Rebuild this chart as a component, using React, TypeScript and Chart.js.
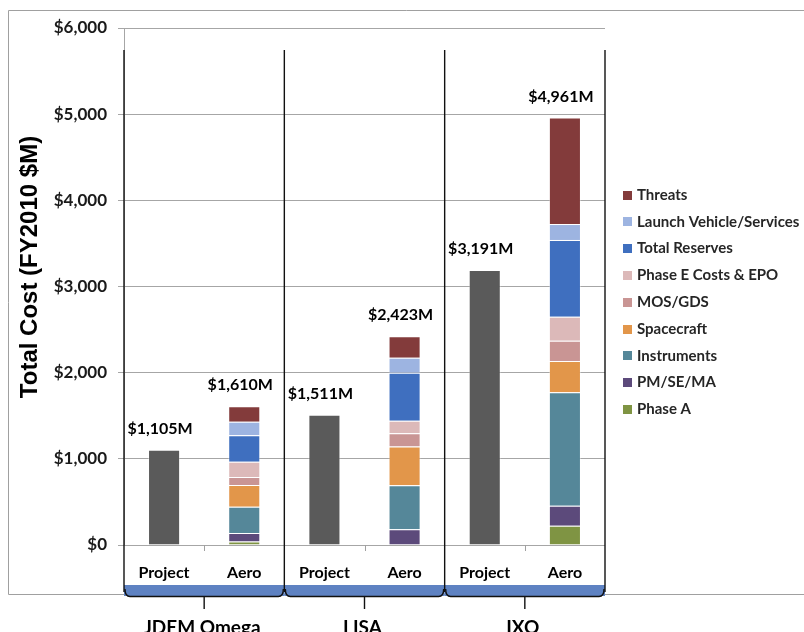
import React, { useEffect, useRef } from 'react';
import { Chart, registerables } from 'chart.js';

Chart.register(...registerables);

// ---- data ----
const categories = ['Project', 'Aero', 'Project', 'Aero', 'Project', 'Aero'];
const groups = ['JDEM Omega', 'LISA', 'IXO'];
const totals = [1105, 1610, 1511, 2423, 3191, 4961];
const totalLabels = ['$1,105M', '$1,610M', '$1,511M', '$2,423M', '$3,191M', '$4,961M'];
const yTicks = [0, 1000, 2000, 3000, 4000, 5000, 6000];

const projectValues = [1105, null, 1511, null, 3191, null];
const phaseA = [null, 40, null, 0, null, 224];
const pmSeMa = [null, 100, null, 183, null, 232];
const instruments = [null, 305, null, 510, null, 1316];
const spacecraft = [null, 250, null, 450, null, 363];
const mosGds = [null, 95, null, 155, null, 236];
const phaseE = [null, 175, null, 145, null, 279];
const reserves = [null, 310, null, 555, null, 890];
const launch = [null, 155, null, 175, null, 185];
const threats = [null, 180, null, 250, null, 1236];

const seriesNames = ['Phase A', 'PM/SE/MA', 'Instruments', 'Spacecraft', 'MOS/GDS', 'Phase E Costs & EPO', 'Total Reserves', 'Launch Vehicle/Services', 'Threats'];
const seriesValues = [phaseA, pmSeMa, instruments, spacecraft, mosGds, phaseE, reserves, launch, threats];
const seriesColors = ['#7F9443', '#5C4A7B', '#558799', '#E2964A', '#C99594', '#DCB9B9', '#3F6FBF', '#9DB4E1', '#833B3B'];
const projectColor = '#5A5A5A';
const bandColor = '#5E82C2';

const FONT = 'Lato, "Open Sans", sans-serif';

const decorPlugin = {
  id: 'decor',
  beforeDraw(chart: any) {
    const ctx = chart.ctx;
    ctx.save();
    ctx.strokeStyle = '#A0A0A0';
    ctx.lineWidth = 1;
    ctx.beginPath();
    ctx.moveTo(8.5, 10.5);
    ctx.lineTo(804, 10.5);
    ctx.moveTo(8.5, 10.5);
    ctx.lineTo(8.5, 594.5);
    ctx.lineTo(804, 594.5);
    ctx.stroke();
    ctx.restore();
  },
  afterDraw(chart: any) {
    const ctx = chart.ctx;
    const xs = chart.scales.x;
    const ys = chart.scales.y;
    const area = chart.chartArea;
    const half = (xs.getPixelForValue(1) - xs.getPixelForValue(0)) / 2;
    ctx.save();

    // small ticks between Project / Aero
    ctx.strokeStyle = '#A0A0A0';
    ctx.lineWidth = 1;
    for (let g = 0; g < groups.length; g++) {
      const xm = Math.round(xs.getPixelForValue(g * 2) + half) + 0.5;
      ctx.beginPath();
      ctx.moveTo(xm, area.bottom);
      ctx.lineTo(xm, area.bottom + 6);
      ctx.stroke();
    }

    // blue bands with bracket
    for (let g = 0; g < groups.length; g++) {
      const xl = xs.getPixelForValue(g * 2) - half;
      const xr = xs.getPixelForValue(g * 2 + 1) + half;
      const xc = (xl + xr) / 2;
      ctx.fillStyle = bandColor;
      ctx.fillRect(xl, 585, xr - xl, 11);
      ctx.strokeStyle = '#111';
      ctx.lineWidth = 1.4;
      ctx.beginPath();
      ctx.moveTo(xl + 1, 589);
      ctx.quadraticCurveTo(xl + 1, 596.5, xl + 6, 596.5);
      ctx.lineTo(xr - 6, 596.5);
      ctx.quadraticCurveTo(xr - 1, 596.5, xr - 1, 589);
      ctx.moveTo(xc, 596.5);
      ctx.lineTo(xc, 609);
      ctx.stroke();

      ctx.fillStyle = '#000';
      ctx.font = `bold 19px ${FONT}`;
      ctx.textAlign = 'center';
      ctx.textBaseline = 'middle';
      ctx.fillText(groups[g], xc - 2, 628);
    }

    // group dividers
    ctx.strokeStyle = '#111';
    ctx.lineWidth = 1.4;
    for (let g = 0; g <= groups.length; g++) {
      const x = g < groups.length ? xs.getPixelForValue(g * 2) - half : xs.getPixelForValue(groups.length * 2 - 1) + half;
      ctx.beginPath();
      ctx.moveTo(x, 50);
      ctx.lineTo(x, 592);
      ctx.stroke();
    }

    // total labels
    ctx.fillStyle = '#000';
    ctx.font = `bold 16px ${FONT}`;
    ctx.textAlign = 'center';
    ctx.textBaseline = 'middle';
    for (let i = 0; i < totals.length; i++) {
      ctx.fillText(totalLabels[i], xs.getPixelForValue(i) - 4, ys.getPixelForValue(totals[i]) - 21);
    }

    // y title
    ctx.save();
    ctx.translate(30, 267);
    ctx.rotate(-Math.PI / 2);
    ctx.font = 'bold 24px "Liberation Sans", Arial, sans-serif';
    ctx.fillStyle = '#000';
    ctx.textAlign = 'center';
    ctx.textBaseline = 'middle';
    ctx.fillText('Total Cost (FY2010 $M)', 0, 0);
    ctx.restore();

    // legend (reversed)
    ctx.font = `bold 15px ${FONT}`;
    ctx.textAlign = 'left';
    ctx.textBaseline = 'middle';
    const n = seriesNames.length;
    for (let k = 0; k < n; k++) {
      const idx = n - 1 - k;
      const y = 195 + k * 26.8;
      ctx.fillStyle = seriesColors[idx];
      ctx.fillRect(623, Math.round(y - 4.5), 9, 9);
      ctx.fillStyle = '#262626';
      ctx.fillText(seriesNames[idx], 637, y);
    }

    ctx.restore();
  },
};

export default function App() {
  const ref = useRef<HTMLCanvasElement | null>(null);

  useEffect(() => {
    if (!ref.current) return;
    const datasets: any[] = [
      {
        label: 'Project',
        data: projectValues,
        backgroundColor: projectColor,
        borderColor: 'rgba(255,255,255,0.35)',
        borderWidth: 1,
        stack: 's',
      },
      ...seriesNames.map((name, i) => ({
        label: name,
        data: seriesValues[i],
        backgroundColor: seriesColors[i],
        borderColor: 'rgba(255,255,255,0.35)',
        borderWidth: 1,
        stack: 's',
      })),
    ];
    const chart = new Chart(ref.current, {
      type: 'bar',
      data: { labels: categories, datasets },
      options: {
        animation: false,
        responsive: false,
        devicePixelRatio: 1,
        layout: { padding: { left: 0, top: 28, right: 199, bottom: 0 } },
        datasets: { bar: { categoryPercentage: 1, barPercentage: 0.4 } },
        plugins: { legend: { display: false }, tooltip: { enabled: false } },
        scales: {
          x: {
            stacked: true,
            grid: { display: false, drawTicks: false },
            border: { display: false },
            ticks: {
              padding: 18,
              color: '#000',
              font: { family: FONT, size: 16, weight: 'bold' },
            },
            afterFit: (s: any) => { s.height = 87; },
          },
          y: {
            stacked: true,
            min: 0,
            max: 6000,
            afterBuildTicks: (s: any) => { s.ticks = yTicks.map((v) => ({ value: v })); },
            grid: { color: '#A6A6A6', tickLength: 6, tickColor: '#A6A6A6' },
            border: { color: '#A6A6A6' },
            ticks: {
              padding: 11,
              color: '#1A1A1A',
              font: { family: FONT, size: 17, weight: 'bold' },
              callback: (v: any) => '$' + Number(v).toLocaleString('en-US'),
            },
            afterFit: (s: any) => { s.width = 124; },
          },
        },
      },
      plugins: [decorPlugin],
    });
    return () => chart.destroy();
  }, []);

  return (
    <div style={{ position: 'absolute', left: 0, top: 0, width: 804, height: 632, overflow: 'hidden', background: '#fff' }}>
      <canvas ref={ref} width={804} height={632} style={{ display: 'block' }} />
    </div>
  );
}
